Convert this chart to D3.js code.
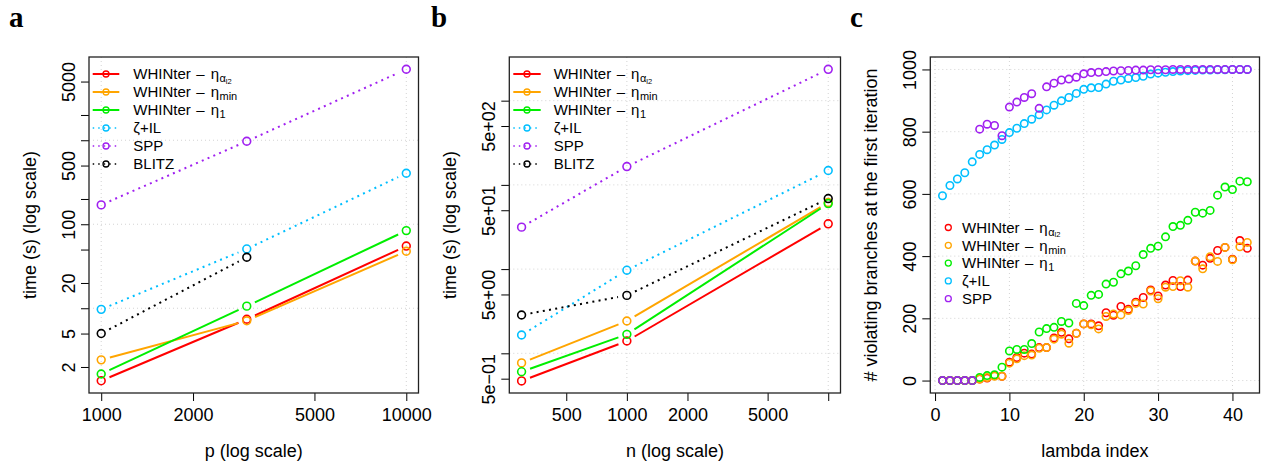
<!DOCTYPE html>
<html><head><meta charset="utf-8">
<script src="https://cdn.jsdelivr.net/npm/d3@7"></script>
<style>body{margin:0;background:#fff}</style>
</head><body>
<svg id="chart" width="1263" height="465"></svg>
<script>
// ---------------- DATA ----------------
// Panel a: time vs p
const pValues = [1000, 3000, 10000];
const timeA_alpha = [1.37, 7.4, 55];
const timeA_min = [2.43, 7.1, 47.7];
const timeA_eta1 = [1.65, 10.6, 84];
const timeA_zeta = [9.7, 50.8, 405];
const timeA_spp = [170, 973, 7000];
const timeA_blitz = [5.0, 40.5];

// Panel b: time vs n
const nValues = [300, 1000, 10000];
const timeB_alpha = [0.47, 1.40, 34.5];
const timeB_min = [0.77, 2.42, 61.7];
const timeB_eta1 = [0.605, 1.68, 60];
const timeB_zeta = [1.65, 9.7, 148];
const timeB_spp = [31.5, 165, 2357];
const timeB_blitz = [2.85, 4.87, 68.8];

// Panel c: violating branches vs lambda index
const lambdaIndex = [1,2,3,4,5,6,7,8,9,10,11,12,13,14,15,16,17,18,19,20,21,22,23,24,25,26,27,28,29,30,31,32,33,34,35,36,37,38,39,40,41,42];
const violC_alpha = [0,0,0,0,0,5,8,16,14,59,74,88,85,106,106,137,155,134,152,182,182,176,218,210,238,229,252,267,291,272,307,322,302,323,384,371,393,418,428,390,450,425];
const violC_min = [0,0,0,0,0,5,10,14,14,56,70,80,82,104,106,133,149,120,152,182,179,166,206,214,211,225,248,246,288,263,300,302,321,300,384,359,398,383,428,388,430,444];
const violC_eta1 = [0,0,0,0,0,10,16,19,43,95,100,100,119,156,167,171,190,185,248,241,274,277,310,316,343,352,369,405,425,432,462,495,499,515,541,538,547,596,622,614,641,639];
const violC_zeta = [594,627,648,668,703,727,742,757,775,797,811,826,840,854,870,885,899,910,923,936,941,942,953,962,966,971,974,978,985,988,991,993,995,996,997,998,998,999,999,1000,1000,1000];
const violC_spp = [0,0,0,0,0,808,824,820,787,879,895,910,922,875,944,956,966,969,975,986,990,991,993,995,996,997,998,998,999,999,999,1000,1000,1000,1000,1000,1000,1000,1000,1000,1000,1000];

// Axis limits & ticks
const xLimA = [912, 10965], yLimA = [0.98, 9800];
const xTicksA = [1000, 2000, 5000, 10000];
const xTickLabelsA = ["1000", "2000", "5000", "10000"];
const yTicksA = [2, 5, 10, 20, 50, 100, 200, 500, 1000, 2000, 5000];
const yTickLabelsA = ["2", "5", "", "20", "", "100", "", "500", "", "", "5000"];
const xGridA = [1000, 10000], yGridA = [10, 100, 1000];

const xLimB = [260.7, 11507], yLimB = [0.338, 3300];
const xTicksB = [500, 1000, 2000, 5000, 10000];
const xTickLabelsB = ["500", "1000", "2000", "5000", ""];
const yTicksB = [0.5, 1, 5, 10, 50, 100, 500, 1000];
const yTickLabelsB = ["5e\u221201", "", "5e+00", "", "5e+01", "", "5e+02", ""];
const xGridB = [1000, 10000], yGridB = [1, 10, 100, 1000];

const xLimC = [-0.64, 43.64], yLimC = [-40, 1040];
const xTicksC = [0, 10, 20, 30, 40];
const yTicksC = [0, 200, 400, 600, 800, 1000];

// Legend labels
const seriesNames = [
  {main: "WHINter", eta: true, sub: "\u03b1", subsub: "l2"},
  {main: "WHINter", eta: true, sub: "min"},
  {main: "WHINter", eta: true, sub: "1"},
  {main: "\u03b6+IL"},
  {main: "SPP"},
  {main: "BLITZ"}
];
const seriesColors = ["#FF0000", "#FFA500", "#00EE00", "#00BFFF", "#A020F0", "#000000"];
const seriesDotted = [false, false, false, true, true, true];

// ---------------- DRAWING ----------------
const FONT = "'Liberation Sans', Arial, Helvetica, sans-serif";
const svg = d3.select("#chart");

function segLines(g, pts, color, dotted) {
  const gap = 9;
  for (let i = 0; i < pts.length - 1; i++) {
    const [x1, y1] = pts[i], [x2, y2] = pts[i + 1];
    const dx = x2 - x1, dy = y2 - y1, L = Math.hypot(dx, dy);
    if (L <= 2 * gap) continue;
    const ux = dx / L, uy = dy / L;
    g.append("line")
      .attr("x1", x1 + ux * gap).attr("y1", y1 + uy * gap)
      .attr("x2", x2 - ux * gap).attr("y2", y2 - uy * gap)
      .attr("stroke", color)
      .attr("stroke-width", 2)
      .attr("stroke-dasharray", dotted ? "2,4.3" : null);
  }
}

function legendText(t, item, size) {
  t.append("tspan").text(item.main);
  if (item.eta) {
    t.append("tspan").attr("dx", 5.5).text("\u2013");
    t.append("tspan").attr("dx", 6).text("\u03b7");
  }
  if (item.sub) {
    t.append("tspan").attr("font-size", 11).attr("dy", 3).attr("dx", 0.5).text(item.sub);
    if (item.subsub) t.append("tspan").attr("font-size", 7.5).attr("dy", 1.5).text(item.subsub);
  }
}

function panel(cfg) {
  const {box} = cfg;
  const g = svg.append("g");
  const x = cfg.xLog ? d3.scaleLog() : d3.scaleLinear();
  x.domain(cfg.xLim).range([box.left, box.right]);
  const y = cfg.yLog ? d3.scaleLog() : d3.scaleLinear();
  y.domain(cfg.yLim).range([box.bottom, box.top]);

  // grid
  const grid = g.append("g").attr("stroke", "#D3D3D3").attr("stroke-width", 1).attr("stroke-dasharray", "1,3");
  cfg.xGrid.forEach(v => grid.append("line").attr("x1", x(v)).attr("x2", x(v)).attr("y1", box.top).attr("y2", box.bottom));
  cfg.yGrid.forEach(v => grid.append("line").attr("y1", y(v)).attr("y2", y(v)).attr("x1", box.left).attr("x2", box.right));

  // axes
  const xa = g.append("g").attr("transform", `translate(0,${box.bottom})`)
    .call(d3.axisBottom(x).tickValues(cfg.xTicks).tickFormat((d, i) => cfg.xTickLabels[i]).tickSizeOuter(0).tickSizeInner(8));
  xa.select(".domain").remove();
  xa.selectAll("line").attr("stroke", "#000").attr("stroke-width", 1);
  xa.selectAll("text").attr("y", 28).attr("dy", 0).attr("font-size", 18).attr("font-family", FONT).attr("fill", "#000");

  const ya = g.append("g").attr("transform", `translate(${box.left},0)`)
    .call(d3.axisLeft(y).tickValues(cfg.yTicks).tickFormat((d, i) => cfg.yTickLabels[i]).tickSizeOuter(0).tickSizeInner(8));
  ya.select(".domain").remove();
  ya.selectAll("line").attr("stroke", "#000").attr("stroke-width", 1);
  ya.selectAll("text").attr("x", 0).attr("dy", 0).attr("text-anchor", "middle")
    .attr("transform", "translate(-14,0) rotate(-90)")
    .attr("font-size", 18).attr("font-family", FONT).attr("fill", "#000");

  // titles
  g.append("text").attr("x", (box.left + box.right) / 2).attr("y", 457).attr("text-anchor", "middle")
    .attr("font-size", 18).attr("font-family", FONT).text(cfg.xTitle);
  g.append("text").attr("transform", `translate(${box.left - 53},${(box.top + box.bottom) / 2}) rotate(-90)`)
    .attr("text-anchor", "middle").attr("font-size", 18).attr("font-family", FONT).text(cfg.yTitle);
  g.append("text").attr("x", cfg.letterX).attr("y", 26.5).attr("font-size", 29).attr("font-weight", "bold")
    .attr("font-family", "'Liberation Serif', 'Times New Roman', serif").text(cfg.letter);

  // series
  const plot = g.append("g");
  cfg.series.forEach(s => {
    const pts = s.values.map((v, i) => [x(cfg.xValues[i]), y(v)]);
    if (cfg.lines) segLines(plot, pts, s.color, s.dotted);
  });
  cfg.series.forEach(s => {
    plot.selectAll(null).data(s.values).enter().append("circle")
      .attr("cx", (d, i) => x(cfg.xValues[i])).attr("cy", d => y(d))
      .attr("r", cfg.r).attr("fill", "none").attr("stroke", s.color).attr("stroke-width", 1.6);
  });

  // box
  g.append("rect").attr("x", box.left).attr("y", box.top).attr("width", box.right - box.left)
    .attr("height", box.bottom - box.top).attr("fill", "none").attr("stroke", "#222").attr("stroke-width", 1.3);

  // legend
  const lg = g.append("g");
  cfg.series.forEach((s, k) => {
    const cy = cfg.legend.y0 + k * cfg.legend.dy;
    if (cfg.lines) {
      lg.append("line").attr("x1", cfg.legend.lx1).attr("x2", cfg.legend.lx2).attr("y1", cy).attr("y2", cy)
        .attr("stroke", s.color).attr("stroke-width", s.dotted ? 1.5 : 2)
        .attr("stroke-dasharray", s.dotted ? "1.5,4" : null);
    }
    lg.append("circle").attr("cx", cfg.legend.cx).attr("cy", cy).attr("r", 3)
      .attr("fill", "none")
      .attr("stroke", s.color).attr("stroke-width", 1.3);
    const t = lg.append("text").attr("x", cfg.legend.tx).attr("y", cy + 5.3)
      .attr("font-size", 15).attr("font-family", FONT).attr("fill", "#000");
    legendText(t, s.name, 15);
  });
}

function mk(vals) {
  return vals.map((v, i) => ({values: v, name: seriesNames[i], color: seriesColors[i], dotted: seriesDotted[i]}));
}

panel({
  letter: "a", letterX: 9,
  box: {left: 89, right: 418.5, top: 57, bottom: 393},
  xLog: true, yLog: true, xLim: xLimA, yLim: yLimA,
  xTicks: xTicksA, xTickLabels: xTickLabelsA, yTicks: yTicksA, yTickLabels: yTickLabelsA,
  xGrid: xGridA, yGrid: yGridA,
  xTitle: "p (log scale)", yTitle: "time (s) (log scale)",
  xValues: pValues, lines: true, r: 3.9,
  series: mk([timeA_alpha, timeA_min, timeA_eta1, timeA_zeta, timeA_spp, timeA_blitz]),
  legend: {y0: 74, dy: 18, lx1: 92.7, lx2: 119.3, cx: 106, tx: 133.3}
});

panel({
  letter: "b", letterX: 431,
  box: {left: 509.3, right: 840.5, top: 57, bottom: 393},
  xLog: true, yLog: true, xLim: xLimB, yLim: yLimB,
  xTicks: xTicksB, xTickLabels: xTickLabelsB, yTicks: yTicksB, yTickLabels: yTickLabelsB,
  xGrid: xGridB, yGrid: yGridB,
  xTitle: "n (log scale)", yTitle: "time (s) (log scale)",
  xValues: nValues, lines: true, r: 3.9,
  series: mk([timeB_alpha, timeB_min, timeB_eta1, timeB_zeta, timeB_spp, timeB_blitz]),
  legend: {y0: 74, dy: 18, lx1: 513.3, lx2: 540.7, cx: 527, tx: 553.7}
});

panel({
  letter: "c", letterX: 850,
  box: {left: 930.3, right: 1259.5, top: 57, bottom: 393},
  xLog: false, yLog: false, xLim: xLimC, yLim: yLimC,
  xTicks: xTicksC, xTickLabels: xTicksC.map(String), yTicks: yTicksC, yTickLabels: yTicksC.map(String),
  xGrid: xTicksC, yGrid: yTicksC,
  xTitle: "lambda index", yTitle: "# violating branches at the first iteration",
  xValues: lambdaIndex, lines: false, r: 3.7,
  series: mk([violC_alpha, violC_min, violC_eta1, violC_zeta, violC_spp]),
  legend: {y0: 227.5, dy: 17.8, cx: 948.3, tx: 962}
});
</script>
</body></html>
